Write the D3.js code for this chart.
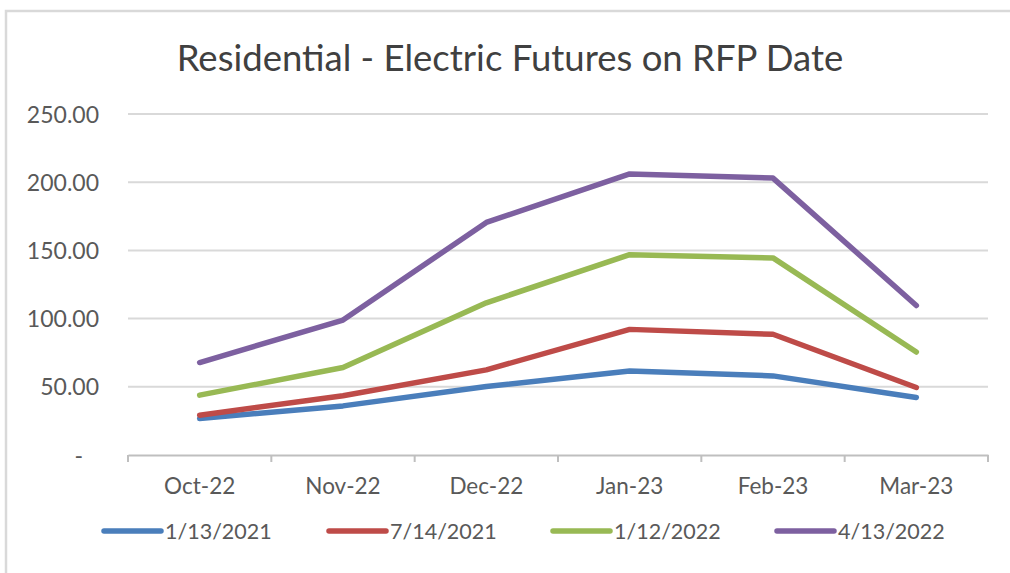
<!DOCTYPE html>
<html>
<head>
<meta charset="utf-8">
<script src="https://cdn.jsdelivr.net/npm/d3@7"></script>
<style>
  html, body { margin: 0; padding: 0; background: #fff; }
  svg { display: block; font-family: Lato, "Open Sans", sans-serif; }
</style>
</head>
<body>
<svg id="chart" width="1010" height="573"></svg>
<script>
const title = "Residential - Electric Futures on RFP Date";
const categories = ["Oct-22", "Nov-22", "Dec-22", "Jan-23", "Feb-23", "Mar-23"];
const seriesNames = ["1/13/2021", "7/14/2021", "1/12/2022", "4/13/2022"];
const seriesColors = ["#4A7EBB", "#BE4B48", "#98B954", "#7D60A0"];
const s2021a = [26.8, 36.0, 50.2, 61.6, 58.0, 42.2];
const s2021b = [29.2, 43.4, 62.4, 92.1, 88.5, 49.5];
const s2022a = [43.9, 64.1, 111.6, 146.9, 144.5, 75.5];
const s2022b = [67.8, 98.9, 170.5, 206.1, 203.0, 109.6];
const yTicks = [0, 50, 100, 150, 200, 250];

const allSeries = [s2021a, s2021b, s2022a, s2022b];

const svg = d3.select("#chart");

// outer border
svg.append("rect")
  .attr("x", 6).attr("y", 11).attr("width", 1020).attr("height", 600)
  .attr("fill", "#fff").attr("stroke", "#d9d9d9").attr("stroke-width", 2.5);

const pLeft = 128, pRight = 988, pTop = 114, pBottom = 455;

const x = d3.scaleBand().domain(categories).range([pLeft, pRight]).padding(0);
const y = d3.scaleLinear().domain([0, 250]).range([pBottom, pTop]);

// title
svg.append("text")
  .attr("x", 510).attr("y", 71)
  .attr("text-anchor", "middle")
  .attr("font-size", 36.5)
  .attr("fill", "#404040")
  .text(title);

// gridlines
svg.append("g")
  .selectAll("line")
  .data(yTicks.filter(d => d > 0))
  .join("line")
  .attr("x1", pLeft).attr("x2", pRight)
  .attr("y1", d => y(d)).attr("y2", d => y(d))
  .attr("stroke", "#d9d9d9").attr("stroke-width", 2);

// y axis labels
const yAxis = d3.axisLeft(y).tickValues(yTicks).tickSize(0).tickPadding(29)
  .tickFormat(d => d === 0 ? "-" : d3.format(".2f")(d));
const gy = svg.append("g").attr("transform", `translate(${pLeft},0)`).call(yAxis);
gy.select(".domain").remove();
gy.selectAll("text").attr("font-size", 23).attr("fill", "#595959")
  .attr("font-family", "Lato, sans-serif").attr("dy", "0.35em");
gy.selectAll(".tick").filter(d => d === 0).select("text").attr("dx", -16);

// x axis
const xAxis = d3.axisBottom(x).tickSize(0).tickPadding(23);
const gx = svg.append("g").attr("transform", `translate(0,${pBottom})`).call(xAxis);
gx.select(".domain").attr("stroke", "#bfbfbf").attr("stroke-width", 2);
gx.selectAll("text").attr("font-size", 22.5).attr("fill", "#595959")
  .attr("font-family", "Lato, sans-serif");
// category boundary tick marks
const bounds = categories.map(c => x(c)).concat([pRight]);
svg.append("g").selectAll("line").data(bounds).join("line")
  .attr("x1", d => d).attr("x2", d => d)
  .attr("y1", pBottom).attr("y2", pBottom + 7)
  .attr("stroke", "#bfbfbf").attr("stroke-width", 2);

// lines
const line = d3.line()
  .x((d, i) => x(categories[i]) + x.bandwidth() / 2)
  .y(d => y(d));

svg.append("g").selectAll("path")
  .data(allSeries)
  .join("path")
  .attr("d", d => line(d))
  .attr("fill", "none")
  .attr("stroke", (d, i) => seriesColors[i])
  .attr("stroke-width", 5.5)
  .attr("stroke-linecap", "round")
  .attr("stroke-linejoin", "round");

// legend
const legendX = [104, 329, 553, 777];
const lg = svg.append("g").selectAll("g")
  .data(seriesNames)
  .join("g")
  .attr("transform", (d, i) => `translate(${legendX[i]},531)`);
lg.append("line")
  .attr("x1", 0).attr("x2", 57).attr("y1", 0).attr("y2", 0)
  .attr("stroke", (d, i) => seriesColors[i])
  .attr("stroke-width", 5.5).attr("stroke-linecap", "round");
lg.append("text")
  .attr("x", 61).attr("y", 0).attr("dy", "0.35em")
  .attr("font-size", 21.5).attr("fill", "#595959")
  .text(d => d);
</script>
</body>
</html>
